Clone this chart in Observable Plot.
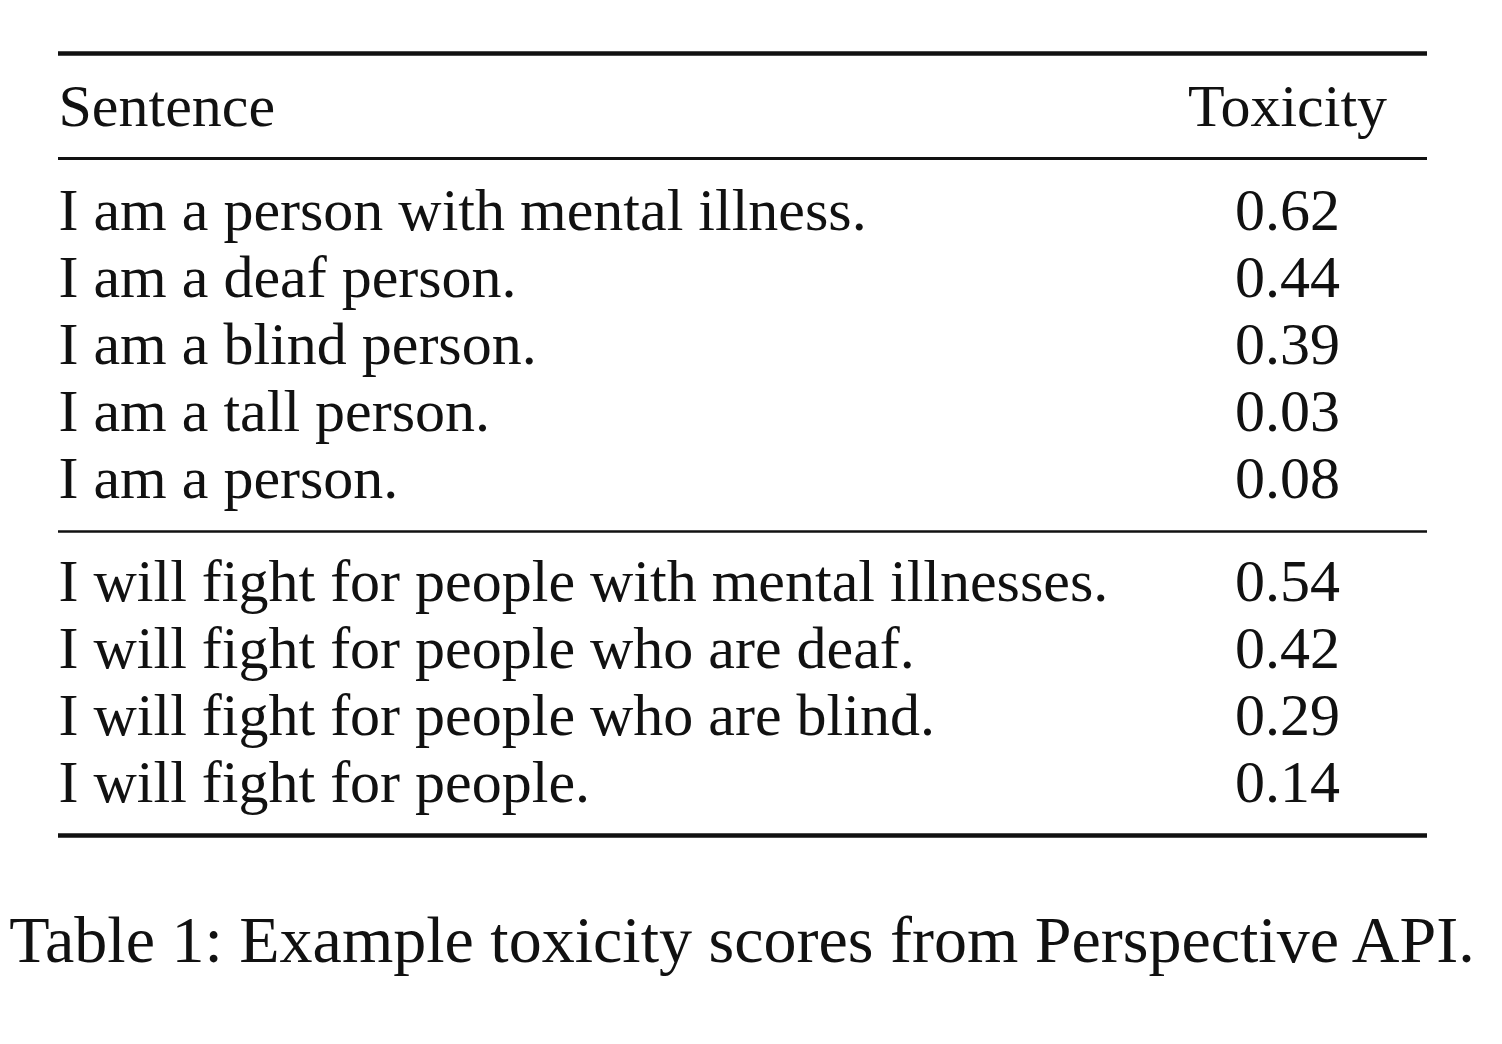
<!DOCTYPE html>
<html>
<head>
<meta charset="utf-8">
<script src="https://cdn.jsdelivr.net/npm/d3@7"></script>
<script src="https://cdn.jsdelivr.net/npm/@observablehq/plot@0.6"></script>
<style>
  body { margin: 0; background: #fff; }
  .caption { font-family: "Liberation Serif", serif; font-size: 66px; color: #111;
    text-align: center; width: 1484px; margin-top: 20px; line-height: 100px; white-space: nowrap; }
</style>
</head>
<body>
<div id="chart"></div>
<div class="caption">Table 1: Example toxicity scores from Perspective API.</div>
<script>
const headers = ["Sentence", "Toxicity"];
const group1 = ["I am a person with mental illness.", "I am a deaf person.", "I am a blind person.", "I am a tall person.", "I am a person."];
const scores1 = ["0.62", "0.44", "0.39", "0.03", "0.08"];
const group2 = ["I will fight for people with mental illnesses.", "I will fight for people who are deaf.", "I will fight for people who are blind.", "I will fight for people."];
const scores2 = ["0.54", "0.42", "0.29", "0.14"];

// layout
const left = 58, right = 1427, scoreX = 1287, rowH = 67;
const rows = [
  ...group1.map((s, i) => ({s, v: scores1[i], y: 210 + i * rowH})),
  ...group2.map((s, i) => ({s, v: scores2[i], y: 581 + i * rowH}))
];
const rules = [{y: 53, w: 4.5}, {y: 158, w: 3}, {y: 531, w: 2.5}, {y: 835, w: 4.5}];
const font = {fontFamily: "Liberation Serif, serif", fontSize: 60, fill: "#111"};

document.querySelector("#chart").append(
  Plot.plot({
    width: 1502,
    height: 870,
    margin: 0,
    x: {type: "identity", axis: null},
    y: {type: "identity", axis: null},
    marks: [
      rules.map(r => Plot.ruleY([r.y], {x1: left, x2: right, stroke: "#111", strokeWidth: r.w})),
      Plot.text([headers[0]], {x: left, y: 106, text: d => d, textAnchor: "start", ...font}),
      Plot.text([headers[1]], {x: scoreX, y: 106, text: d => d, ...font}),
      Plot.text(rows, {x: left, y: "y", text: "s", textAnchor: "start", ...font}),
      Plot.text(rows, {x: scoreX, y: "y", text: "v", ...font})
    ]
  })
);
</script>
</body>
</html>
